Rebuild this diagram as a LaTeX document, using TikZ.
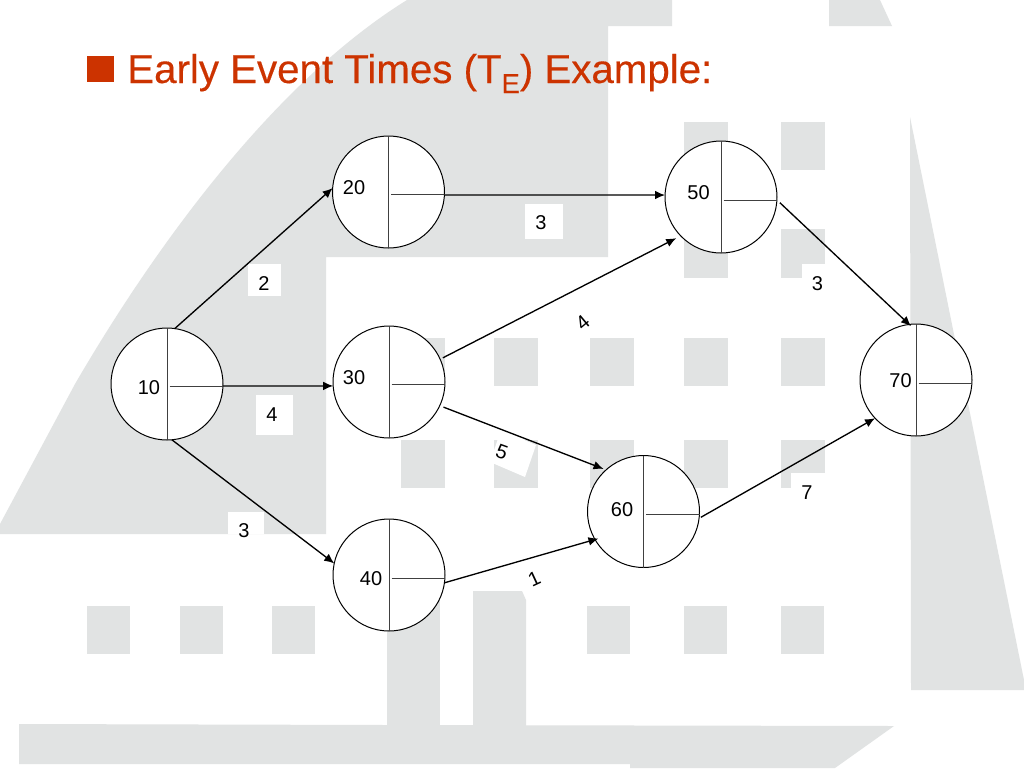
\documentclass[tikz,border=0pt]{standalone}
\usepackage{fontspec}
\usetikzlibrary{arrows.meta}
\setmainfont{Liberation Sans}
\definecolor{bggrey}{HTML}{E1E3E3}
\definecolor{titlered}{HTML}{CC3300}
\tikzset{
  event/.style={circle,draw=black,fill=white,line width=0.75pt,minimum size=84pt,inner sep=0pt,outer sep=0pt},
  divider/.style={line width=0.75pt,draw=black!75},
  conn/.style={line width=1pt,-{Latex[length=7.5pt,width=6.5pt]}},
  lab/.style={font=\fontsize{15}{15}\selectfont,inner sep=0pt}
}
\newcommand{\win}[3]{\fill[bggrey] (#1,#2) rectangle ++(#3);}
\begin{document}
\begin{tikzpicture}[x=0.75pt,y=-0.75pt]
\useasboundingbox (0,0) rectangle (1024,768);
\fill[white] (0,0) rectangle (1024,768);
% background building
\fill[bggrey] (0,534) -- (0,524) -- (75,384) .. controls (150,255) and (270,85) .. (407,0) -- (672,0) -- (672,26) -- (608,26) -- (608,257) -- (326,257) -- (326,534) -- cycle;
\fill[bggrey] (829,0) -- (880,0) -- (892,26) -- (829,26) -- cycle;
\fill[bggrey] (910,117) -- (1024,680) -- (1024,690) -- (911,690) -- cycle;
\foreach \xx in {684,781}{\win{\xx}{122}{44,48}\win{\xx}{229}{44,49}}
\foreach \xx in {401,494,590,684,781}{\win{\xx}{338}{44,48}\win{\xx}{440}{44,48}}
\foreach \xx in {87,180,272,587,684,781}{\win{\xx}{606}{43,48}}
\fill[bggrey] (387,560) rectangle (440,730);
\fill[bggrey] (473,591) -- (522,591) -- (526,600) -- (526,730) -- (473,730) -- cycle;
\fill[bggrey] (19,724) -- (387,725) -- (894,726) -- (835,768) -- (630,768) -- (630,764) -- (19,764) -- cycle;
% white label patches
\fill[white] (248,264) rectangle (281,296);
\fill[white] (256,395) rectangle (293,435);
\fill[white] (228,512) rectangle (264,534);
\fill[white] (525,204) rectangle (563,239);
\fill[white] (802,264) rectangle (835,300);
\fill[white] (791,473) rectangle (830,492);
\fill[white] (501,430) -- (536,445) -- (525,477) -- (490,462) -- cycle;
% title
\fill[titlered] (87,56) rectangle (114,82);
\node[anchor=base west,inner sep=0pt,text=titlered,font=\fontsize{30.2}{31}\selectfont\addfontfeature{FakeBold=0.3}] (title) at (127,83) {Early Event Times (T\raisebox{-7.5pt}{\fontsize{20.5}{21}\selectfont E}) Example:};
% events
\node[event] (n10) at (167,384) {};
\node[event] (n20) at (388.5,192) {};
\node[event] (n30) at (389,382) {};
\node[event] (n40) at (389,575) {};
\node[event] (n50) at (721,197) {};
\node[event] (n60) at (643.5,511.5) {};
\node[event] (n70) at (916,380) {};
\foreach \n/\dy in {n10/2,n20/2,n30/2,n40/3,n50/3,n60/3,n70/3}{
  \draw[divider] (\n.north) -- (\n.south);
  \coordinate (tick) at ([yshift=-\dy*0.75pt]\n.center);
  \draw[divider] ([xshift=2pt]tick) -- (tick -| \n.east);
}
% connectors
\draw[conn] (n10.82) -- (n20.176);
\draw[conn] (n10.-2) -- (n30.184);
\draw[conn] (n10.-85) -- (n40.168);
\draw[conn] (n20.-3) -- (n50.178);
\draw[conn,shorten <=2.25pt,shorten >=3.75pt] (n30.24) -- (n50.224);
\draw[conn,shorten <=3pt,shorten >=2pt] (n30.-25.7) -- (n60.132);
\draw[conn,shorten >=-2.7pt] (n40.-8) -- (n60.210);
\draw[conn,shorten <=3pt,shorten >=-1.9pt] (n50.-3) -- (n70.97.5);
\draw[conn,shorten <=1.5pt] (n60.-7.4) -- (n70.223.5);
% node numbers
\node[lab] (t10) at (149,387.5) {10};
\node[lab] (t20) at (354,187.5) {20};
\node[lab] (t30) at (354,377.5) {30};
\node[lab] (t40) at (371,578.5) {40};
\node[lab] (t50) at (698.5,192.5) {50};
\node[lab] (t60) at (622,509.5) {60};
\node[lab] (t70) at (900.5,380.5) {70};
% edge weights
\node[lab] (w1) at (264,283.5) {2};
\node[lab] (w2) at (272,414.5) {4};
\node[lab] (w3) at (244,530.5) {3};
\node[lab] (w4) at (541,222.5) {3};
\node[lab] (w5) at (817.5,283.5) {3};
\node[lab,rotate=40] (w6) at (582.7,323) {4};
\node[lab,rotate=-20] (w7) at (502,452) {5};
\node[lab] (w8) at (807,492.5) {7};
\node[lab,rotate=25] (w9) at (534.3,579) {1};
\end{tikzpicture}
\end{document}
